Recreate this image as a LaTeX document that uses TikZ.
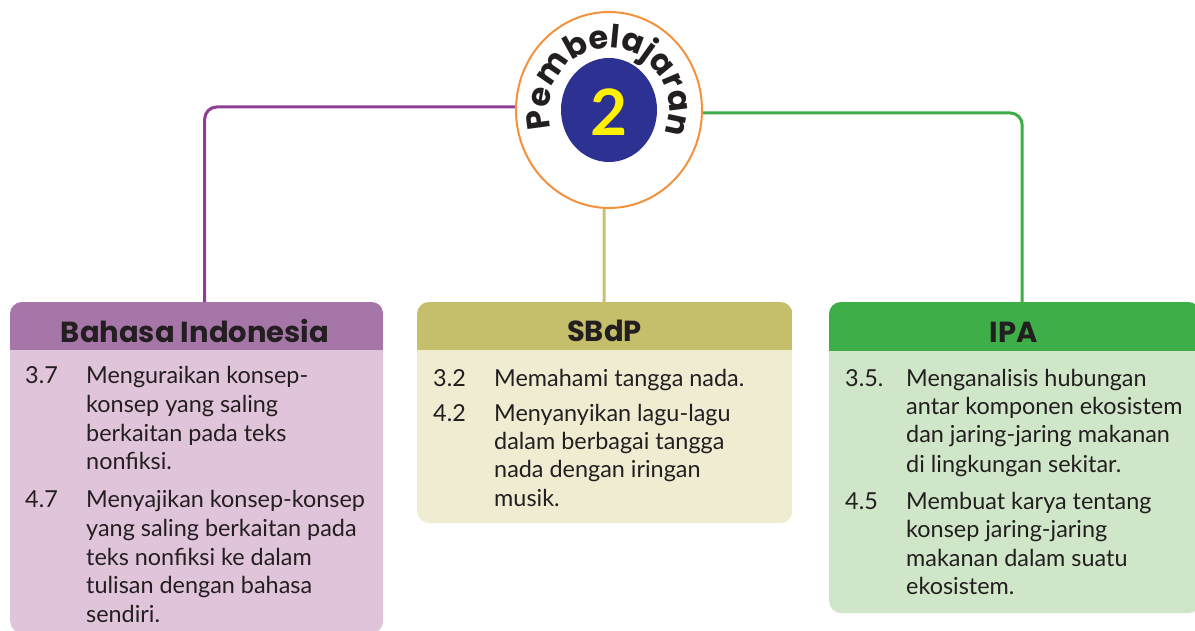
\documentclass[tikz,border=0pt]{standalone}
\usepackage{fontspec}
\setmainfont{Lato}
\newfontfamily\arcfont{Poppins}
\usetikzlibrary{shapes.geometric,backgrounds,decorations.text,calc}
\definecolor{txt}{HTML}{231F20}
\definecolor{bihead}{HTML}{A676A8}
\definecolor{bibody}{HTML}{E0C4DA}
\definecolor{biline}{HTML}{8E3F95}
\definecolor{sbhead}{HTML}{C5BE6A}
\definecolor{sbbody}{HTML}{EFECD2}
\definecolor{sbline}{HTML}{C8C078}
\definecolor{iphead}{HTML}{3EAE49}
\definecolor{ipbody}{HTML}{D0E6C8}
\definecolor{ipline}{HTML}{3DAE49}
\definecolor{ring}{HTML}{F4913C}
\definecolor{navy}{HTML}{2D3192}
\definecolor{yel}{HTML}{FFF100}
\begin{document}
\begin{tikzpicture}[x=1pt,y=1pt,
  box/.style={rectangle, rounded corners=12pt, inner sep=0pt, anchor=north west},
  hdr/.style={anchor=base, inner sep=0pt, font=\arcfont\fontsize{29}{29}\selectfont\bfseries, text=txt},
  num/.style={anchor=base west, inner sep=0pt, font=\fontsize{23.4}{23.4}\selectfont, text=txt},
  ln/.style={num},
  conn/.style={line width=3pt, rounded corners=12pt}]
\clip (0,0) rectangle (1195,631);

% boxes
\node[box, fill=bibody, minimum width=373pt, minimum height=331pt] (bi) at (10,329) {};
\begin{scope}
\clip[rounded corners=12pt] (bi.south west) rectangle (bi.north east);
\fill[bihead] (bi.north west) rectangle ($(bi.north east)+(0,-48)$);
\end{scope}
\node[box, fill=sbbody, minimum width=375pt, minimum height=221pt] (sb) at (417,329) {};
\begin{scope}
\clip[rounded corners=12pt] (sb.south west) rectangle (sb.north east);
\fill[sbhead] (sb.north west) rectangle ($(sb.north east)+(0,-48)$);
\end{scope}
\node[box, fill=ipbody, minimum width=371pt, minimum height=311pt] (ipa) at (829,329) {};
\begin{scope}
\clip[rounded corners=12pt] (ipa.south west) rectangle (ipa.north east);
\fill[iphead] (ipa.north west) rectangle ($(ipa.north east)+(0,-49)$);
\end{scope}

% headers
\node[hdr] (bih) at (195,288) {Bahasa Indonesia};
\node[hdr] (sbh) at (604.5,289) {SBdP};
\node[hdr] (iph) at (1014,288) {IPA};

% Bahasa Indonesia text
\node[num] (b1n) at (25,247) {3.7};
\node[ln] (b1a) at (86,247) {Menguraikan konsep-};
\node[ln] (b1b) at (86,218) {konsep yang saling};
\node[ln] (b1c) at (86,189) {berkaitan pada teks};
\node[ln] (b1d) at (86,161) {nonfiksi.};
\node[num] (b2n) at (25,123) {4.7};
\node[ln] (b2a) at (86,123) {Menyajikan konsep-konsep};
\node[ln] (b2b) at (86,94) {yang saling berkaitan pada};
\node[ln] (b2c) at (86,65) {teks nonfiksi ke dalam};
\node[ln] (b2d) at (86,37) {tulisan dengan bahasa};
\node[ln] (b2e) at (86,8) {sendiri.};

% SBdP text
\node[num] (s1n) at (433,244) {3.2};
\node[ln] (s1a) at (494,244) {Memahami tangga nada.};
\node[num] (s2n) at (433,209) {4.2};
\node[ln] (s2a) at (494,209) {Menyanyikan lagu-lagu};
\node[ln] (s2b) at (494,181) {dalam berbagai tangga};
\node[ln] (s2c) at (494,153) {nada dengan iringan};
\node[ln] (s2d) at (494,124) {musik.};

% IPA text
\node[num] (i1n) at (845,244) {3.5.};
\node[ln] (i1a) at (906,244) {Menganalisis hubungan};
\node[ln] (i1b) at (906,216) {antar komponen ekosistem};
\node[ln] (i1c) at (906,188) {dan jaring-jaring makanan};
\node[ln] (i1d) at (906,158) {di lingkungan sekitar.};
\node[num] (i2n) at (845,121) {4.5};
\node[ln] (i2a) at (906,121) {Membuat karya tentang};
\node[ln] (i2b) at (906,93) {konsep jaring-jaring};
\node[ln] (i2c) at (906,64) {makanan dalam suatu};
\node[ln] (i2d) at (906,36) {ekosistem.};

% central circle
\node[ellipse, draw=ring, line width=2pt, fill=white, minimum width=186pt, minimum height=196pt, inner sep=0pt] (pc) at (609,521) {};
\node[ellipse, fill=navy, minimum width=96pt, minimum height=104pt, inner sep=0pt] (disc) at (pc.center) {};
\node[font=\fontsize{64}{64}\selectfont\bfseries, text=yel, inner sep=0pt] (two) at (609,519) {2};
\path[decorate, decoration={text along path, text format delimiters={|}{|},
  text={|\arcfont\bfseries\fontsize{32}{32}\selectfont\color{txt}|Pembelajaran},
  text align=fit to path}]
  ($(pc.center)+(197:60 and 62)$) arc[start angle=197, end angle=-19, x radius=60, y radius=62];

% connectors
\begin{scope}[on background layer]
\draw[conn, draw=biline] ([yshift=3pt]pc.west) -| ([xshift=8pt]bi.north);
\draw[conn, draw=ipline] ([yshift=-3pt]pc.east) -| ([xshift=7.5pt]ipa.north);
\draw[line width=3pt, draw=sbline] ([xshift=-5pt]pc.south) -- ([xshift=-0.5pt]sb.north);
\end{scope}
\end{tikzpicture}
\end{document}
